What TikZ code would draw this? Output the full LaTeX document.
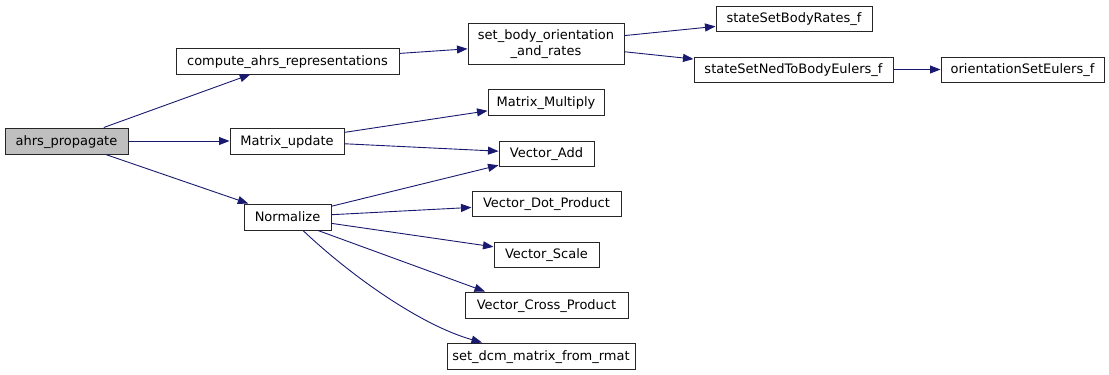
\documentclass[tikz,border=0pt]{standalone}
\usepackage{fontspec}
\setmainfont{DejaVu Sans}
\usetikzlibrary{arrows.meta}
\definecolor{edgeblue}{RGB}{25,25,112}
\definecolor{rootfill}{RGB}{191,191,191}
\begin{document}
\begin{tikzpicture}[x=1pt,y=-1pt,
  fn/.style={draw=black!85,line width=1pt,fill=white,inner sep=0pt,
    align=center,text height=11pt,text depth=3pt,
    font=\fontsize{13}{15.5}\selectfont},
  twoline/.style={text height={},text depth={}},
  call/.style={draw=edgeblue,line width=0.9pt,
    -{Triangle[length=10.5pt,width=8pt]}}]
\useasboundingbox (0,0) rectangle (1109,375);

% functions of the call graph
\node[fn,fill=rootfill,minimum width=123pt,minimum height=26pt] (ahrs) at (66.5,141) {ahrs\_propagate};
\node[fn,minimum width=223pt,minimum height=26pt] (compute) at (287.5,61) {compute\_ahrs\_representations};
\node[fn,minimum width=114pt,minimum height=26pt] (matupd) at (287,141) {Matrix\_update};
\node[fn,minimum width=87pt,minimum height=26pt] (norm) at (287.5,217) {Normalize};
\node[fn,twoline,minimum width=156pt,minimum height=41pt] (setbody) at (546,43.5) {\rule{0pt}{11pt}set\_body\_orientation\\\_and\_rates\rule[-3pt]{0pt}{3pt}};
\node[fn,minimum width=116pt,minimum height=26pt] (matmul) at (546,102) {Matrix\_Multiply};
\node[fn,minimum width=95pt,minimum height=25pt] (vadd) at (546.5,153.5) {Vector\_Add};
\node[fn,minimum width=156pt,minimum height=25pt] (rates) at (794,18.5) {stateSetBodyRates\_f};
\node[fn,minimum width=199pt,minimum height=25pt] (ned) at (793.5,69.5) {stateSetNedToBodyEulers\_f};
\node[fn,minimum width=163pt,minimum height=25pt] (euler) at (1022.5,69.5) {orientationSetEulers\_f};
\node[fn,minimum width=149pt,minimum height=25pt] (vdot) at (546.5,203.5) {Vector\_Dot\_Product};
\node[fn,minimum width=105pt,minimum height=25pt] (vscale) at (546.5,254.5) {Vector\_Scale};
\node[fn,minimum width=163pt,minimum height=26pt] (vcross) at (546.5,305) {Vector\_Cross\_Product};
\node[fn,minimum width=188pt,minimum height=26pt] (dcm) at (541,356) {set\_dcm\_matrix\_from\_rmat};

% calls
\draw[call] (ahrs) -- (compute);
\draw[call] (ahrs) -- (matupd);
\draw[call] (ahrs) -- (norm);
\draw[call] (compute) -- (setbody);
\draw[call] (setbody) -- (rates);
\draw[call] (setbody) -- (ned);
\draw[call] (ned) -- (euler);
\draw[call] (matupd) -- (matmul);
\draw[call] (matupd) -- (vadd);
\draw[call] (norm) -- (vadd);
\draw[call] (norm) -- (vdot);
\draw[call] (norm) -- (vscale);
\draw[call] ([xshift=30.5pt]norm.south) -- ([xshift=-61.5pt]vcross.north);
\draw[call] ([xshift=15.5pt]norm.south) .. controls (350,275) and (420,325) .. ([xshift=-59pt]dcm.north);
\end{tikzpicture}
\end{document}
